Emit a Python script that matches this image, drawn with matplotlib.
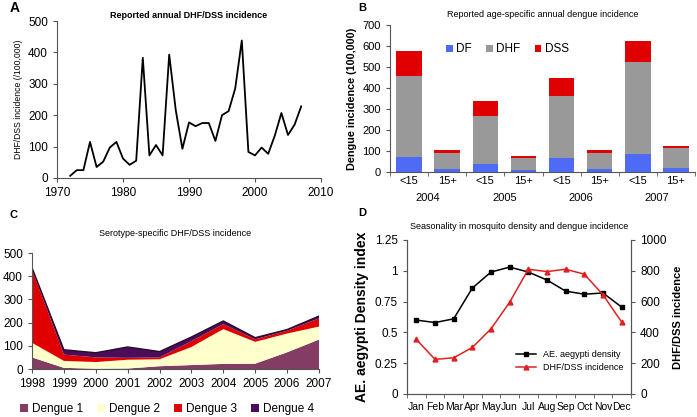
import numpy as np
import matplotlib.pyplot as plt
from matplotlib.transforms import blended_transform_factory

plt.rcParams['font.family'] = ['Liberation Sans', 'DejaVu Sans']

# Panel A: annual DHF/DSS incidence
years_a = list(range(1972, 2008))
incidence_a = [7, 25, 25, 115, 35, 52, 97, 115, 62, 42, 55, 383, 72, 105, 72,
               393, 215, 93, 177, 165, 175, 175, 118, 200, 213, 285, 438, 83,
               72, 97, 77, 135, 207, 137, 170, 228]

# Panel B: age-specific incidence
age_groups = ['<15', '15+'] * 4
b_years = ['2004', '2005', '2006', '2007']
df_vals = [70, 15, 37, 8, 65, 15, 88, 17]
dhf_vals = [387, 77, 228, 60, 297, 77, 437, 98]
dss_vals = [118, 11, 75, 9, 85, 11, 97, 10]

# Panel C: serotype-specific incidence
years_c = list(range(1998, 2008))
den1 = [50, 5, 1, 2, 12, 17, 22, 23, 72, 127]
den2 = [63, 30, 29, 38, 30, 78, 150, 94, 81, 56]
den3 = [317, 27, 20, 8, 8, 25, 21, 11, 12, 35]
den4 = [7, 21, 20, 47, 25, 18, 14, 7, 5, 10]

# Panel D: seasonality
months = ['Jan', 'Feb', 'Mar', 'Apr', 'May', 'Jun', 'Jul', 'Aug', 'Sep', 'Oct', 'Nov', 'Dec']
density = [0.60, 0.58, 0.61, 0.86, 0.99, 1.03, 0.99, 0.925, 0.835, 0.81, 0.82, 0.705]
dhf_month = [354, 225, 235, 302, 423, 596, 810, 795, 810, 778, 644, 467]

W, H = 697, 417
fig = plt.figure(figsize=(W / 100, H / 100), dpi=100)


def box(l, r, t, b):
    return [l / W, (H - b) / H, (r - l) / W, (b - t) / H]


def excel_style(ax):
    ax.spines['top'].set_visible(False)
    ax.spines['right'].set_visible(False)
    ax.tick_params(direction='out', length=3, width=0.8, color='#555555')
    for s in ax.spines.values():
        s.set_color('#555555')


# ---- A ----
ax = fig.add_axes(box(57, 321, 21, 178))
excel_style(ax)
ax.plot(years_a, incidence_a, color='black', lw=1.3)
ax.set_xlim(1970, 2010)
ax.set_ylim(0, 500)
ax.set_xticks([1970, 1980, 1990, 2000, 2010])
ax.set_yticks(range(0, 501, 100))
ax.tick_params(labelsize=8.5)
ax.set_ylabel('DHF/DSS incidence (/100,000)', fontsize=6.2)
ax.set_title('Reported annual DHF/DSS incidence', fontsize=6.5, fontweight='bold', pad=2)
fig.text(10 / W, 1 - 8 / H, 'A', fontsize=10, fontweight='bold', va='center')

# ---- B ----
ax = fig.add_axes(box(390, 695, 25, 172))
excel_style(ax)
x = np.arange(len(age_groups))
w = 0.67
ax.bar(x, df_vals, w, color='#4d6bf5', label='DF')
ax.bar(x, dhf_vals, w, bottom=df_vals, color='#999999', label='DHF')
ax.bar(x, dss_vals, w, bottom=np.add(df_vals, dhf_vals), color='#e00000', label='DSS')
ax.set_xlim(-0.5, len(age_groups) - 0.5)
ax.set_ylim(0, 700)
ax.set_yticks(range(0, 701, 100))
ax.set_xticks(x)
ax.set_xticklabels(age_groups)
ax.set_xticks(np.arange(-0.5, len(age_groups), 1), minor=True)
ax.tick_params(axis='x', which='major', length=0, labelsize=8, pad=3)
ax.tick_params(axis='x', which='minor', length=3, direction='out', color='#555555')
ax.tick_params(axis='y', labelsize=8)
ax.set_ylabel('Dengue incidence (100,000)', fontsize=7.8, fontweight='bold')
ax.set_title('Reported age-specific annual dengue incidence', fontsize=6.5, pad=6)
trans = blended_transform_factory(ax.transData, ax.transAxes)
for i, yr in enumerate(b_years):
    ax.text(2 * i + 0.5, -0.18, yr, transform=trans, ha='center', va='center', fontsize=8)
ax.legend(loc='center', bbox_to_anchor=(0.385, 0.835), ncol=3, frameon=False,
          fontsize=8.5, handlelength=0.55, handleheight=0.55, columnspacing=1.2,
          handletextpad=0.3)
fig.text(358 / W, 1 - 8 / H, 'B', fontsize=8, fontweight='bold', va='center')

# ---- C ----
ax = fig.add_axes(box(32, 319, 253, 369))
excel_style(ax)
ax.stackplot(years_c, den1, den2, den3, den4,
             colors=['#833c64', '#ffffcc', '#e00000', '#4b0c5a'],
             labels=['Dengue 1', 'Dengue 2', 'Dengue 3', 'Dengue 4'])
top = np.sum([den1, den2, den3, den4], axis=0)
ax.plot(years_c, top, color='#2a0a2a', lw=1)
ax.set_xlim(1998, 2007)
ax.set_ylim(0, 500)
ax.set_xticks(years_c)
ax.set_yticks(range(0, 501, 100))
ax.tick_params(labelsize=8.5)
ax.set_title('Serotype-specific DHF/DSS incidence', fontsize=6.5, pad=12)
ax.legend(loc='upper center', bbox_to_anchor=(0.47, -0.2), ncol=4, frameon=False,
          fontsize=8.5, handlelength=0.7, handleheight=0.7, columnspacing=1.2,
          handletextpad=0.3)
fig.text(10 / W, 1 - 215 / H, 'C', fontsize=8, fontweight='bold', va='center')

# ---- D ----
ax = fig.add_axes(box(407, 631, 240, 394))
ax.spines['top'].set_visible(False)
for s in ax.spines.values():
    s.set_color('#555555')
xm = np.arange(len(months))
l1, = ax.plot(xm, density, color='black', marker='s', ms=3.5, lw=1.1,
              label='AE. aegypti density')
ax.set_xlim(-0.5, len(months) - 0.5)
ax.set_ylim(0, 1.25)
ax.set_yticks([0, 0.25, 0.5, 0.75, 1, 1.25])
ax.set_yticklabels(['0', '0.25', '0.5', '0.75', '1', '1.25'])
ax.set_xticks(xm)
ax.set_xticklabels(months)
ax.set_xticks(np.arange(-0.5, len(months), 1), minor=True)
ax.tick_params(axis='x', which='major', length=0, labelsize=7.5, pad=6)
ax.tick_params(axis='x', which='minor', length=3, direction='out', color='#555555')
ax.tick_params(axis='y', labelsize=8.5, direction='out', length=3, color='#555555')
ax.set_ylabel('AE. aegypti Density index', fontsize=10, fontweight='bold')
ax.set_title('Seasonality in mosquito density and dengue incidence', fontsize=6.5, pad=8)
ax2 = ax.twinx()
ax2.spines['top'].set_visible(False)
for s in ax2.spines.values():
    s.set_color('#555555')
l2, = ax2.plot(xm, dhf_month, color='#e02020', marker='^', ms=3.5, lw=1.1,
               label='DHF/DSS incidence')
ax2.set_ylim(0, 1000)
ax2.set_yticks(range(0, 1001, 200))
ax2.tick_params(axis='y', labelsize=8.5, direction='out', length=3, color='#555555')
ax2.set_ylabel('DHF/DSS incidence', fontsize=8, fontweight='bold', labelpad=5)
ax2.legend([l1, l2], ['AE. aegypti density', 'DHF/DSS incidence'],
           loc='lower left', bbox_to_anchor=(0.45, 0.09), frameon=False,
           fontsize=6.5, handlelength=2.2, labelspacing=0.45)
fig.text(358 / W, 1 - 213 / H, 'D', fontsize=8, fontweight='bold', va='center')

fig.savefig('out.png', dpi=100)
